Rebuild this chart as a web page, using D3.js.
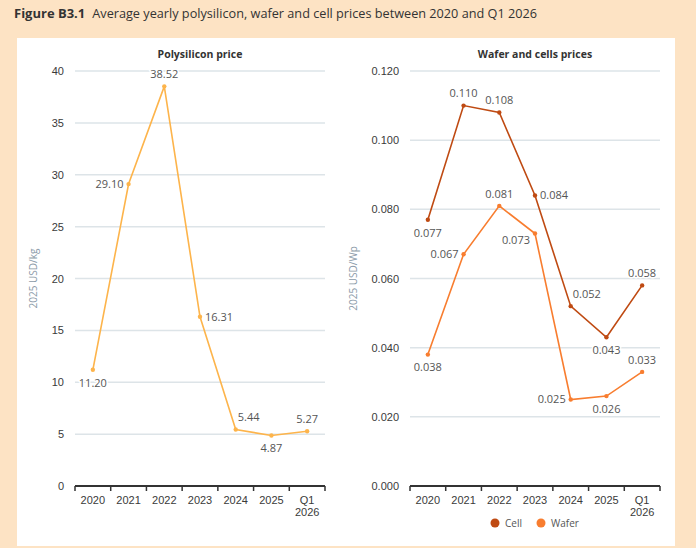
<!DOCTYPE html>
<html>
<head>
<meta charset="utf-8">
<script src="https://cdn.jsdelivr.net/npm/d3@7"></script>
<style>
    body { margin: 0; background: #fde3c4; font-family: "Open Sans", sans-serif; }
    .tick text { fill: #3a3a3a; font-size: 11px; }
    .data-label { fill: #555; font-size: 11px; stroke: white; stroke-width: 3px; paint-order: stroke; }
    .axis-title { fill: #8a9aa8; font-size: 10px; }
    .chart-title { fill: #333; font-size: 10.5px; font-weight: bold; }
</style>
</head>
<body>
<div id="chart"></div>
<script>
// categories and values
const years = ["2020", "2021", "2022", "2023", "2024", "2025", "Q1 2026"];
const polysilicon = [11.20, 29.10, 38.52, 16.31, 5.44, 4.87, 5.27];
const cell = [0.077, 0.110, 0.108, 0.084, 0.052, 0.043, 0.058];
const wafer = [0.038, 0.067, 0.081, 0.073, 0.025, 0.026, 0.033];
const polyTicks = [0, 5, 10, 15, 20, 25, 30, 35, 40];
const priceTicks = [0, 0.02, 0.04, 0.06, 0.08, 0.10, 0.12];

// where each value label sits relative to its point
const polyPos = ["b", "l", "t", "r", "tr", "b", "t"];
const cellPos = ["b", "t", "t", "r", "tr", "b", "t"];
const waferPos = ["b", "l", "t", "bl", "l", "b", "t"];

const W = 696, H = 548;
const colors = { poly: "#fdb44b", cell: "#bf4a12", wafer: "#f87d2f" };

const svg = d3.select("#chart").append("svg")
    .attr("width", W)
    .attr("height", H);

svg.append("rect")
    .attr("x", 17).attr("y", 38)
    .attr("width", 658).attr("height", 508)
    .attr("fill", "white");

const title = svg.append("text")
    .attr("x", 14).attr("y", 18)
    .attr("font-size", 12.7)
    .attr("fill", "#333");
title.append("tspan").attr("font-weight", "bold").attr("font-size", 13).text("Figure B3.1");
title.append("tspan").attr("dx", 7).text("Average yearly polysilicon, wafer and cell prices between 2020 and Q1 2026");

function drawPanel(opt) {
    const g = svg.append("g");
    const top = 71, bottom = 486;

    const x = d3.scaleBand()
        .domain(years)
        .range([opt.left, opt.left + 250]);

    const y = d3.scaleLinear()
        .domain(opt.domain)
        .range([bottom, top]);

    // gridlines
    g.selectAll(".grid")
        .data(opt.ticks.slice(1))
        .enter().append("line")
        .attr("x1", opt.left).attr("x2", opt.left + 250)
        .attr("y1", d => y(d)).attr("y2", d => y(d))
        .attr("stroke", "#dde4e8")
        .attr("stroke-width", 1.5);

    const yAxis = g.append("g")
        .attr("transform", "translate(" + (opt.left - 8) + ",0)")
        .call(d3.axisLeft(y).tickValues(opt.ticks).tickFormat(opt.fmt).tickSize(0));
    yAxis.select(".domain").remove();

    const xAxis = g.append("g")
        .attr("transform", "translate(0," + bottom + ")")
        .call(d3.axisBottom(x).tickSize(0).tickPadding(10));
    xAxis.select(".domain")
        .attr("stroke", "#333")
        .attr("stroke-width", 2)
        .attr("d", "M" + opt.left + ",0H" + (opt.left + 250));

    // tick marks on band edges
    g.selectAll(".band-tick")
        .data(years.concat(["end"]))
        .enter().append("line")
        .attr("x1", (d, i) => i < years.length ? x(d) : opt.left + 250)
        .attr("x2", (d, i) => i < years.length ? x(d) : opt.left + 250)
        .attr("y1", bottom).attr("y2", bottom + 5)
        .attr("stroke", "#333")
        .attr("stroke-width", 1.5);

    xAxis.selectAll(".tick text")
        .each(function (d) {
            const parts = d.split(" ");
            const t = d3.select(this).text(null);
            parts.forEach((p, i) => {
                t.append("tspan").attr("x", 0).attr("dy", i === 0 ? "0.71em" : "1.1em").text(p);
            });
        });

    g.append("text")
        .attr("class", "chart-title")
        .attr("x", opt.left + 125)
        .attr("y", 58)
        .attr("text-anchor", "middle")
        .text(opt.title);

    g.append("text")
        .attr("class", "axis-title")
        .attr("transform", "translate(" + opt.axisX + "," + ((top + bottom) / 2) + ") rotate(-90)")
        .attr("text-anchor", "middle")
        .text(opt.unit);

    const cx = d => x(d) + x.bandwidth() / 2;

    opt.series.forEach(s => {
        const pts = years.map((yr, i) => [cx(yr), y(s.values[i])]);

        g.append("path")
            .attr("d", d3.line()(pts))
            .attr("fill", "none")
            .attr("stroke", s.color)
            .attr("stroke-width", 1.6);

        g.selectAll(null)
            .data(pts)
            .enter().append("circle")
            .attr("cx", d => d[0]).attr("cy", d => d[1])
            .attr("r", 2.2)
            .attr("fill", s.color);
    });

    // labels drawn last so their halo sits above lines and grid
    opt.series.forEach(s => {
        const pts = years.map((yr, i) => [cx(yr), y(s.values[i])]);

        g.selectAll(null)
            .data(pts)
            .enter().append("text")
            .attr("class", "data-label")
            .attr("x", (d, i) => {
                const p = s.pos[i];
                if (p === "l" || p === "bl") return d[0] - 5;
                if (p === "r") return d[0] + 5;
                if (p === "tr") return d[0] + 2;
                return d[0];
            })
            .attr("y", (d, i) => {
                const p = s.pos[i];
                if (p === "t" || p === "tr") return d[1] - 12;
                if (p === "b") return d[1] + 13;
                if (p === "bl") return d[1] + 7;
                return d[1];
            })
            .attr("dy", "0.35em")
            .attr("text-anchor", (d, i) => {
                const p = s.pos[i];
                if (p === "l" || p === "bl") return "end";
                if (p === "r" || p === "tr") return "start";
                return "middle";
            })
            .text((d, i) => s.labelFmt(s.values[i]));
    });

    return { x, y };
}

drawPanel({
    left: 75,
    domain: [0, 40],
    ticks: polyTicks,
    fmt: d3.format("d"),
    title: "Polysilicon price",
    unit: "2025 USD/kg",
    axisX: 37,
    series: [{ values: polysilicon, color: colors.poly, pos: polyPos, labelFmt: d3.format(".2f") }]
});

drawPanel({
    left: 410,
    domain: [0, 0.12],
    ticks: priceTicks,
    fmt: d3.format(".3f"),
    title: "Wafer and cells prices",
    unit: "2025 USD/Wp",
    axisX: 357,
    series: [
        { values: cell, color: colors.cell, pos: cellPos, labelFmt: d3.format(".3f") },
        { values: wafer, color: colors.wafer, pos: waferPos, labelFmt: d3.format(".3f") }
    ]
});

// legend
const legend = svg.append("g").attr("transform", "translate(495,523)");
[["Cell", colors.cell, 0], ["Wafer", colors.wafer, 46]].forEach(l => {
    legend.append("circle")
        .attr("cx", l[2]).attr("cy", 0).attr("r", 4.5)
        .attr("fill", l[1]);
    legend.append("text")
        .attr("x", l[2] + 10).attr("y", 0)
        .attr("dy", "0.35em")
        .attr("font-size", 10)
        .attr("fill", "#555")
        .text(l[0]);
});
</script>
</body>
</html>
